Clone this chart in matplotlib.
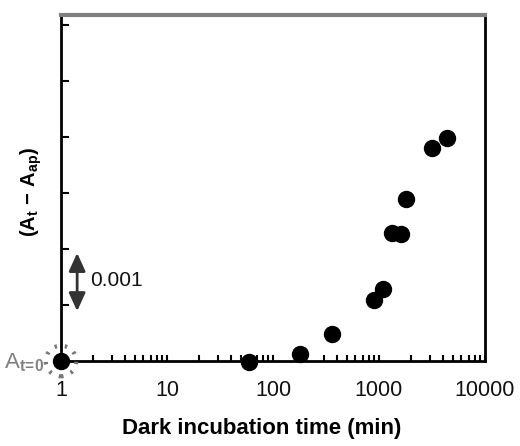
import matplotlib
matplotlib.use("Agg")
import matplotlib.pyplot as plt
import numpy as np

plt.rcParams['font.family'] = ['Liberation Sans', 'DejaVu Sans']
plt.rcParams['mathtext.fontset'] = 'custom'
plt.rcParams['mathtext.rm'] = 'Liberation Sans'
plt.rcParams['mathtext.it'] = 'Liberation Sans'
plt.rcParams['mathtext.bf'] = 'Liberation Sans:bold'

# Data (dark incubation time in min, absorbance difference)
time_min = [60, 180, 360, 900, 1080, 1320, 1620, 1800, 3150, 4350]
delta_abs = [-0.00001, 0.00012, 0.00048, 0.00109, 0.00129, 0.00229, 0.00227, 0.00289, 0.0038, 0.00398]
t0_time = [1]
t0_abs = [0.0]
xtick_vals = [1, 10, 100, 1000, 10000]
xtick_labels = ['1', '10', '100', '1000', '10000']
ytick_vals = [0.001, 0.002, 0.003, 0.004, 0.005, 0.006]

fig = plt.figure(figsize=(5.2, 4.46), dpi=100)
ax = fig.add_axes([61/520, 1 - 361/446, (485-61)/520, (361-15)/446])

ax.set_xscale('log')
ax.set_xlim(1, 10000)
ax.set_ylim(0, 0.00618)

ax.plot(time_min, delta_abs, 'o', color='black', markersize=11.5, clip_on=False, zorder=5)
ax.plot(t0_time, t0_abs, 'o', color='black', markersize=11.5, clip_on=False, zorder=6)
ax.scatter(t0_time, t0_abs, s=22**2, facecolors='none', edgecolors='#777777',
           linestyles=(0, (0.6, 1.9)), linewidths=3, clip_on=False, zorder=6)

ax.set_xticks(xtick_vals)
ax.set_xticklabels(xtick_labels)
ax.set_yticks(ytick_vals)
ax.set_yticklabels([])
ax.tick_params(axis='x', which='both', direction='in', length=4, width=1.5, pad=14,
               labelsize=15.5, labelcolor='#111111')
ax.tick_params(axis='y', which='major', direction='in', length=6, width=1.5)
ax.tick_params(axis='y', which='minor', length=0)

for side in ['left', 'bottom', 'right']:
    ax.spines[side].set_color('black')
    ax.spines[side].set_linewidth(2)
ax.spines['top'].set_color('#808080')
ax.spines['top'].set_linewidth(3)

ax.set_xlabel('Dark incubation time (min)', fontsize=16, fontweight='bold', labelpad=12)
ax.xaxis.set_label_coords(0.474, -0.165)
ax.set_ylabel(r'$\mathbf{(A_t\,-\,A_{ap})}$', fontsize=14.5, labelpad=7)
ax.yaxis.set_label_coords(-0.039, 0.49)

# scale arrow
ax.annotate('', xy=(1.42, 0.00193), xytext=(1.42, 0.00089),
            arrowprops=dict(arrowstyle='<|-|>,head_width=0.5,head_length=1.1',
                            color='#333333', lw=2, shrinkA=0, shrinkB=0))
ax.text(1.88, 0.00143, '0.001', fontsize=15, va='center', ha='left', color='#111111')

ax.annotate(r'A$_{\mathbf{t\!=\!0}}$', xy=(1, 0), xytext=(-12, -1), textcoords='offset points',
            ha='right', va='center', fontsize=16, color='#808080', annotation_clip=False)

fig.savefig('out.png', dpi=100)
